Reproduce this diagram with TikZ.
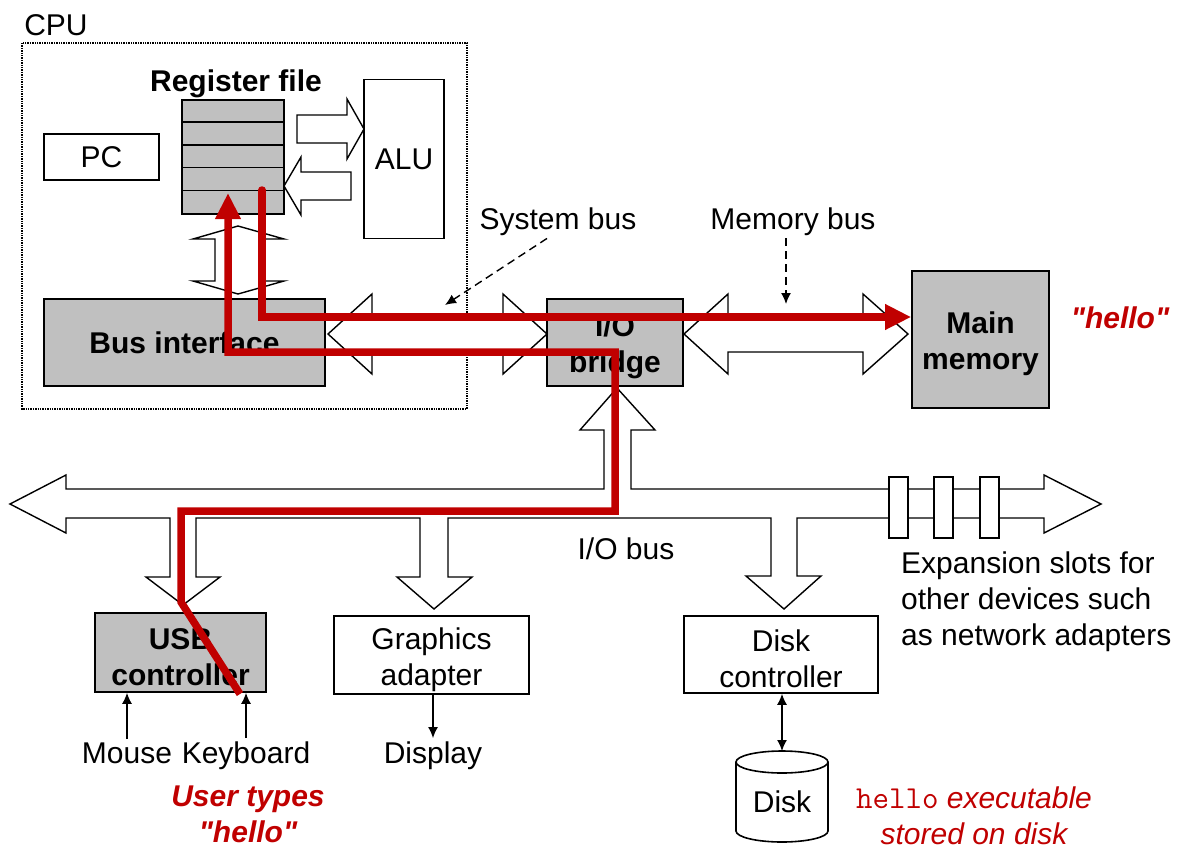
\documentclass[tikz,border=0pt]{standalone}
\usepackage{fontspec}
\setmainfont{Liberation Sans}[Ligatures=TeXOff]
\usetikzlibrary{arrows.meta}
\definecolor{blockgray}{RGB}{192,192,192}
\definecolor{hellored}{RGB}{192,0,0}
\newcommand{\hi}{\rule{0pt}{31pt}}
\tikzset{
  unit/.style={draw, line width=1.6pt, inner sep=2pt, align=center},
  grayunit/.style={unit, fill=blockgray, font=\bfseries},
  busarrow/.style={draw, fill=white, line width=1.4pt, line join=miter},
  wire/.style={line width=1.4pt},
  pointer/.style={line width=1.4pt, dash pattern=on 8pt off 5pt, ->},
  hellopath/.style={draw=hellored, line width=7.5pt, -{Triangle[length=26pt,width=24pt]}},
  every node/.append style={inner sep=3pt}
}
\begin{document}
\fontsize{30}{36}\selectfont
\begin{tikzpicture}[x=1pt, y=-1pt, >={Latex[length=11pt,width=10pt]}]
\useasboundingbox (0,0) rectangle (1181,849);

% CPU chip
\node [anchor=base] at (56,35) (cpu) {CPU};
\draw [line width=1.4pt, densely dotted] (22,43) rectangle (467,409);
\node [anchor=base, font=\bfseries] at (236,91) (reglabel) {Register file};
\node [grayunit, minimum width=102pt, minimum height=114pt] at (233,157) (regfile) {};
\foreach \r in {1,...,4}
  \draw [line width=1.6pt] ([yshift=-\r*22.8pt]regfile.north west) -- ([yshift=-\r*22.8pt]regfile.north east);
\node [unit, minimum width=115pt, minimum height=46pt] at (101.5,157) (pc) {PC};
\node [unit, minimum width=80pt, minimum height=159pt] at (404,159) (alu) {ALU};
\node [grayunit, minimum width=281pt, minimum height=87pt] at (184.5,342.5) (busif) {Bus interface};

% bridge, memory
\node [grayunit, minimum width=136pt, minimum height=87pt] at (615,342.5) (bridge) {\hi I/O\\bridge};
\node [grayunit, minimum width=137pt, minimum height=137pt] at (980.5,339.5) (mainmem) {\hi Main\\memory};
\node [anchor=base] at (558,229) (sysbus) {System bus};
\node [anchor=base] at (793,229) (membus) {Memory bus};

% devices
\node [grayunit, minimum width=171pt, minimum height=79pt] at (180.5,652.5) (usb) {\hi USB\\controller};
\node [unit, minimum width=195pt, minimum height=78pt] at (431.5,655) (graphics) {\hi Graphics\\adapter};
\node [unit, minimum width=194pt, minimum height=77pt] at (781,654.5) (diskctl) {\hi Disk\\controller};
\coordinate (disktop) at (782,751);
\draw [unit, fill=white] (736,762) -- (736,831) arc[start angle=180, end angle=0, x radius=46, y radius=11]
  -- (828,762) arc[start angle=0, end angle=-180, x radius=46, y radius=11] -- cycle;
\draw [unit] (736,762) arc[start angle=180, end angle=0, x radius=46, y radius=11];
\node at (782,802) (disk) {Disk};

\node [anchor=base] at (127,763) (mouse) {Mouse};
\node [anchor=base] at (246,763) (kbd) {Keyboard};
\node [anchor=base] at (433,763) (display) {Display};
\node [anchor=base] at (626,559) (iobus) {I/O bus};
\node [anchor=north west, align=left] at (898,549) (slotnote) {Expansion slots for\\other devices such\\as network adapters};

% block arrows
\draw [busarrow] (297,115) -- (347,115) -- (347,99) -- (364,129) -- (347,159) -- (347,143) -- (297,143) -- cycle;
\draw [busarrow] (351,172) -- (301,172) -- (301,157) -- (284,186) -- (301,215) -- (301,200) -- (351,200) -- cycle;
\draw [busarrow] (238,226) -- (284,239) -- (262,239) -- (262,281) -- (284,281) -- (238,294) -- (193,281) -- (215,281) -- (215,239) -- (193,239) -- cycle;
\draw [busarrow] (328,334) -- (372,294) -- (372,316) -- (503,316) -- (503,294) -- (547,334) -- (503,374) -- (503,352) -- (372,352) -- (372,374) -- cycle;
\draw [busarrow] (684,334) -- (728,294) -- (728,316) -- (863,316) -- (863,294) -- (908,334) -- (863,374) -- (863,352) -- (728,352) -- (728,374) -- cycle;
\draw [busarrow] (10,504) -- (66,475) -- (66,489) -- (604,489) -- (604,430) -- (580,430) -- (617,388) -- (655,430) -- (631,430) -- (631,489)
  -- (1044,489) -- (1044,475) -- (1101,504) -- (1044,533) -- (1044,518)
  -- (797,518) -- (797,576) -- (821,576) -- (784,609) -- (746,576) -- (771,576) -- (771,518)
  -- (448,518) -- (448,577) -- (472,577) -- (434,609) -- (397,577) -- (420,577) -- (420,518)
  -- (196,518) -- (196,577) -- (220,577) -- (183,605) -- (146,577) -- (170,577) -- (170,518)
  -- (66,518) -- (66,533) -- cycle;
\foreach \s in {889,934,980}
  \draw [busarrow] (\s,477) rectangle ++(19,61);

% thin arrows
\draw [wire, ->] (mouse.north) -- (mouse.north |- usb.south);
\draw [wire, ->] (kbd.north) -- (kbd.north |- usb.south);
\draw [wire, ->] (display.north |- graphics.south) -- (display.north);
\draw [wire, <->] (diskctl.south -| disktop) -- (disktop);
\coordinate (systip) at (445,305);
\coordinate (memtip) at (786,304);
\draw [pointer] ([xshift=-11pt]sysbus.south) -- (systip);
\draw [pointer] (memtip |- membus.south) -- (memtip);

% hello
\node [hellored, font=\bfseries\itshape] at (1120,318) (memhello) {"hello"};
\node [hellored, font=\bfseries\itshape, align=center] at (248,814) (typed) {User types\\"hello"};
\node [hellored, font=\itshape, align=center] at (974,816) (diskhello) {{\upshape\ttfamily\fontsize{32}{36}\selectfont hello} executable\\stored on disk};
\coordinate (keypress) at (240,694);
\coordinate (regin) at (228,193);
\coordinate (regout) at (262,190);
\draw [hellopath] (keypress) -- (181,602) |- (615,511) |- (228,352) -- (regin);
\draw [hellopath, line cap=round] (regout) |- ([yshift=22.5pt]mainmem.west);
\end{tikzpicture}
\end{document}
